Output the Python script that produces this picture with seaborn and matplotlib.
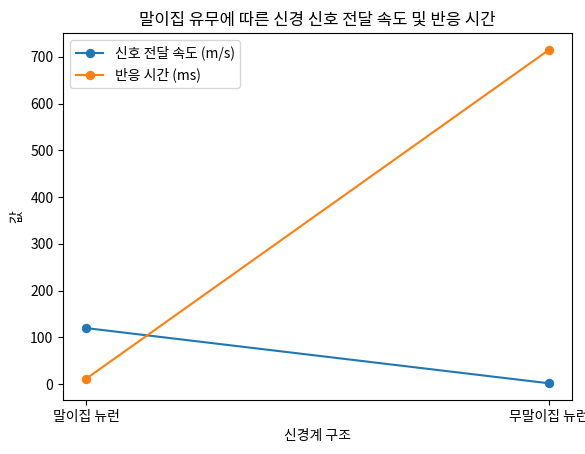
import matplotlib
matplotlib.use("Agg")
import matplotlib.pyplot as plt
import seaborn as sns
import pandas as pd

categories = ["말이집 뉴런", "무말이집 뉴런"]
speed = [120, 2]
reaction = [12, 715]

plt.rcParams['font.family'] = ['Noto Sans CJK KR', 'DejaVu Sans']
plt.rcParams['axes.unicode_minus'] = False

df = pd.DataFrame({"구조": categories, "신호 전달 속도 (m/s)": speed, "반응 시간 (ms)": reaction})

fig, ax = plt.subplots(figsize=(5.85, 4.54), dpi=100)
sns.lineplot(data=df, x="구조", y="신호 전달 속도 (m/s)", marker="o", markeredgecolor=None,
             color="#1f77b4", label="신호 전달 속도 (m/s)", ax=ax)
sns.lineplot(data=df, x="구조", y="반응 시간 (ms)", marker="o", markeredgecolor=None,
             color="#ff7f0e", label="반응 시간 (ms)", ax=ax)
ax.set_xlabel("신경계 구조")
ax.set_ylabel("값")
ax.set_title("말이집 유무에 따른 신경 신호 전달 속도 및 반응 시간")
ax.legend(loc="upper left")
fig.subplots_adjust(left=0.108, right=0.978, top=0.927, bottom=0.119)
fig.savefig("out.png")
